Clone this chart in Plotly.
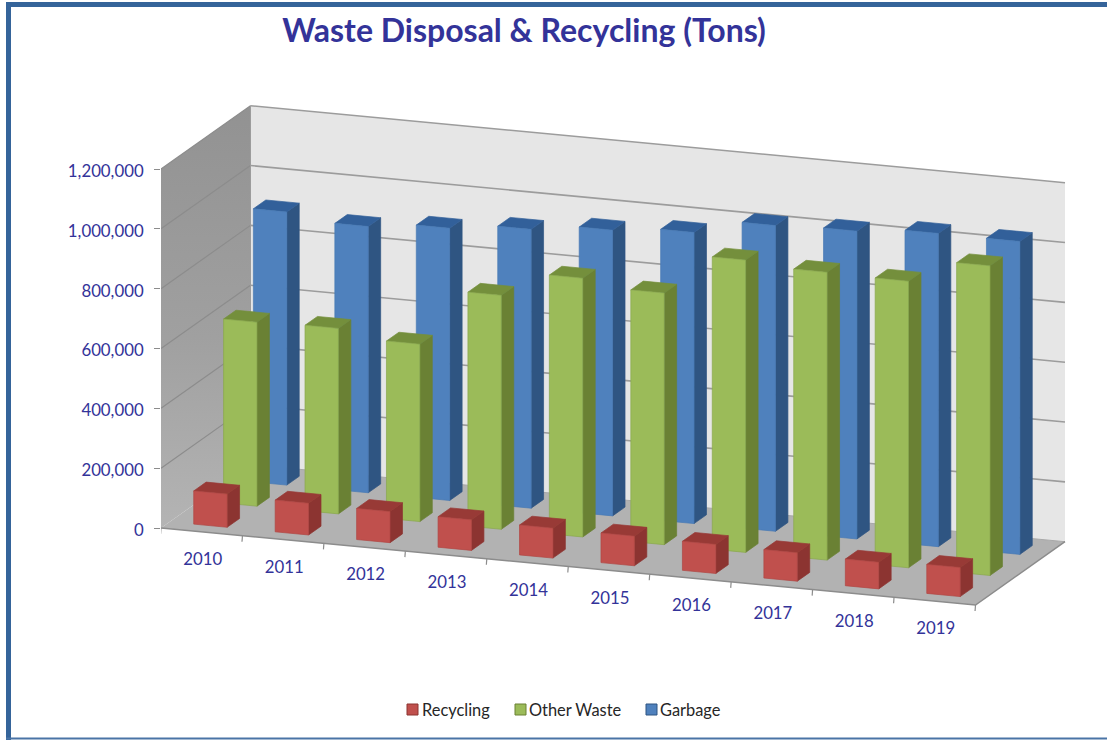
import plotly.graph_objects as go

years = ["2010", "2011", "2012", "2013", "2014", "2015", "2016", "2017", "2018", "2019"]
recycling = [111000, 106000, 104000, 102000, 100000, 99000, 97000, 95000, 89000, 97000]
other_waste = [615000, 620000, 593000, 782000, 865000, 841000, 977000, 962000, 958000, 1035000]
garbage = [913000, 890000, 910000, 932000, 955000, 973000, 1022000, 1029000, 1047000, 1046000]
y_ticks = [0, 200000, 400000, 600000, 800000, 1000000, 1200000]
y_labels = ["0", "200,000", "400,000", "600,000", "800,000", "1,000,000", "1,200,000"]
legend_names = ["Recycling", "Other Waste", "Garbage"]

W, H = 1107, 740
PX_U, PY_U = 81.45, 7.7     # screen shift per category
PX_D, PY_D = 89.5, 63.3     # screen shift for whole depth
PX_V = 359.0 / 1200000      # screen px per ton
X0, Y0 = 161.0, 528.0       # pixel of the front-left floor corner
LEFT, RIGHT, TOP, BOTTOM = 161, 1080, 90, 650
VMAX = 1200000
BAR_W = 0.41
BAR_D = 0.139
FONT = "Lato"
TXT = "#333399"
LABEL_SIZE = 16.8


def px(u, d):
    return u + d * PX_D / PX_U


def py(u, d, v):
    return v + (-u * PY_U + d * PY_D) / PX_V


def poly(points):
    return [px(u, d) for u, d, v in points], [py(u, d, v) for u, d, v in points]


fig = go.Figure()


def area(points, fill, line=None, width=0, **kw):
    x, y = poly(points + points[:1])
    fig.add_trace(go.Scatter(x=x, y=y, mode="lines", fill="toself", fillcolor=fill,
                             line=dict(color=line or fill, width=width),
                             hoverinfo="skip", showlegend=False, **kw))


def stroke(points, color, width):
    x, y = poly(points)
    fig.add_trace(go.Scatter(x=x, y=y, mode="lines", line=dict(color=color, width=width),
                             hoverinfo="skip", showlegend=False))


N = len(years)
# walls
area([(0, 0, 0), (0, 1, 0), (0, 1, VMAX), (0, 0, VMAX)], "#969696",
     fillgradient=dict(type="vertical", colorscale=[[0, "#b4b4b4"], [0.45, "#a0a0a0"], [1, "#929292"]]))
area([(0, 1, 0), (N, 1, 0), (N, 1, VMAX), (0, 1, VMAX)], "#e6e6e6")
area([(0, 0, 0), (N, 0, 0), (N, 1, 0), (0, 1, 0)], "#b2b2b2")
# grid
for t in y_ticks[1:]:
    stroke([(0, 0, t), (0, 1, t)], "#8c8c8c", 1.2)
    stroke([(0, 1, t), (N, 1, t)], "#9c9c9c", 1.6)
stroke([(0, 1, 0), (N, 1, 0)], "#a8a8a8", 1)
stroke([(0, 1, 0), (0, 1, VMAX)], "#9c9c9c", 1)
# floor front edges + ticks
stroke([(0, 0, 0), (N, 0, 0), (N, 1, 0)], "#8c8c8c", 1.5)
for i in range(N + 1):
    stroke([(i, 0, 0), (i, -0.005, -19000)], "#8c8c8c", 1.2)

series = [
    (garbage, 0.8333, "#4f81bd", "#2f5582", "#32609a", "#477ab5"),
    (other_waste, 0.5, "#9bbb59", "#6a8134", "#748f3c", "#8aa84e"),
    (recycling, 0.1667, "#c0504d", "#8c3431", "#983a36", "#b04643"),
]
for values, centre, c_front, c_side, c_top, c_edge in series:
    d0, d1 = centre - BAR_D / 2, centre + BAR_D / 2
    for i, v in enumerate(values):
        u0 = i + 0.5 - BAR_W / 2
        u1 = i + 0.5 + BAR_W / 2
        area([(u1, d0, 0), (u1, d1, 0), (u1, d1, v), (u1, d0, v)], c_side, c_side, 0.7)
        area([(u0, d0, v), (u1, d0, v), (u1, d1, v), (u0, d1, v)], c_top, c_top, 0.7)
        area([(u0, d0, 0), (u1, d0, 0), (u1, d0, v), (u0, d0, v)], c_front, c_edge, 0.7)

# category labels
fig.add_trace(go.Scatter(
    x=[px(i + 0.5, 0) + 1 / PX_U for i in range(N)],
    y=[py(i + 0.5, 0, 0) - 29 / PX_V for i in range(N)],
    mode="text", text=years, textposition="middle center",
    textfont=dict(family=FONT, size=LABEL_SIZE, color=TXT),
    hoverinfo="skip", showlegend=False, cliponaxis=False))

# border
shapes = [
    dict(type="line", xref="paper", yref="paper", x0=6 / W, x1=1, y0=1 - 4.5 / H, y1=1 - 4.5 / H,
         line=dict(color="#35649a", width=5)),
    dict(type="line", xref="paper", yref="paper", x0=8.5 / W, x1=8.5 / W, y0=0, y1=1 - 2 / H,
         line=dict(color="#35649a", width=5)),
    dict(type="line", xref="paper", yref="paper", x0=6 / W, x1=1, y0=1 - 738.5 / H, y1=1 - 738.5 / H,
         line=dict(color="#4a74a6", width=2)),
]
# legend: swatch + real text
annotations = []
for name, col, edge, sw, tx in zip(legend_names,
                                   ["#c0504d", "#9bbb59", "#4f81bd"],
                                   ["#8c3431", "#6a8134", "#2f5582"],
                                   [407, 515, 646], [423, 529.5, 660.5]):
    shapes.append(dict(type="rect", xref="paper", yref="paper", x0=sw / W, x1=(sw + 11) / W,
                       y0=1 - 715 / H, y1=1 - 704 / H, fillcolor=col, line=dict(color=edge, width=1)))
    annotations.append(dict(text=name, xref="paper", yref="paper", x=tx / W, xanchor="left",
                            y=1 - 709 / H, yanchor="middle", showarrow=False, borderpad=0, borderwidth=0,
                            xshift=-1, font=dict(family=FONT, size=16.4, color="#262626")))

fig.update_layout(
    width=W, height=H, autosize=False, showlegend=False,
    margin=dict(l=0, r=0, t=0, b=0, pad=0),
    paper_bgcolor="white", plot_bgcolor="rgba(0,0,0,0)",
    title=dict(text="<b>Waste Disposal &amp; Recycling (Tons)</b>",
               x=524 / W, xanchor="center", xref="paper",
               y=1 - 31 / H, yanchor="middle", yref="paper",
               font=dict(family=FONT, size=32, color=TXT)),
    xaxis=dict(visible=False, domain=[LEFT / W, RIGHT / W],
               range=[(LEFT - X0) / PX_U, (RIGHT - X0) / PX_U], fixedrange=True),
    yaxis=dict(domain=[1 - BOTTOM / H, 1 - TOP / H],
               range=[(Y0 - BOTTOM) / PX_V, (Y0 - TOP) / PX_V],
               tickvals=y_ticks, ticktext=y_labels, ticks="outside", ticklen=6,
               tickcolor="#8c8c8c", tickwidth=1.2, showgrid=False, zeroline=False,
               showline=False, ticklabelstandoff=7, ticklabelshift=2,
               tickfont=dict(family=FONT, size=LABEL_SIZE, color=TXT), fixedrange=True),
    shapes=shapes,
    annotations=annotations,
)

fig.write_html("out.html", config=dict(displayModeBar=False),
               post_script="document.body.style.margin='0';document.body.style.overflow='hidden';")
